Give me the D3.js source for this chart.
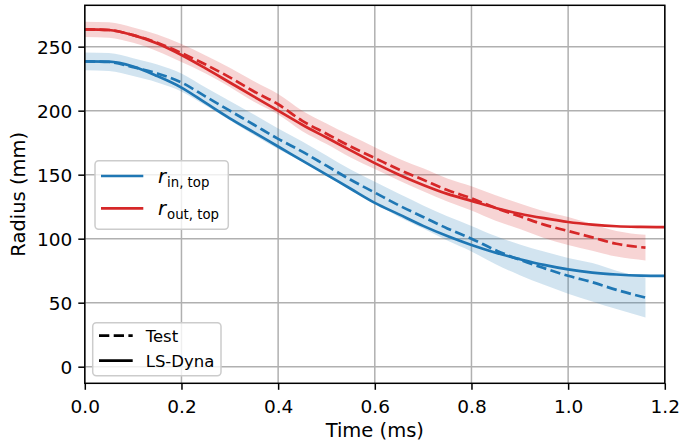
<!DOCTYPE html>
<html><head><meta charset="utf-8">
<script src="https://cdn.jsdelivr.net/npm/d3@7"></script>
<style>body{margin:0;background:#fff}svg{display:block}text{font-family:"DejaVu Sans",sans-serif}</style>
</head><body><svg id="c" width="681" height="446"></svg>
<script>
// LS-Dyna simulation (solid)
const simTime = [0,0.05,0.1,0.15,0.2,0.25,0.3,0.35,0.4,0.45,0.5,0.55,0.6,0.65,0.7,0.75,0.8,0.85,0.9,0.95,1.0,1.05,1.1,1.15,1.2];
const simIn  = [238.5,238.3,234.5,227,218,206,194,183,172,161,150,139,128,119,110,102,95,89,84,79.5,76,73.5,72,71.2,71];
const simOut = [263.5,263,259,252.5,243.5,233,222,211,200,189,179,169,159,150,142,135,129.5,124,119.5,116,113,111,109.7,109.2,109];
// Test (dashed) mean and spread
const testTime = [0,0.05,0.1,0.15,0.2,0.25,0.3,0.35,0.4,0.45,0.5,0.55,0.6,0.65,0.7,0.75,0.8,0.85,0.9,0.95,1.0,1.05,1.1,1.16];
const testIn   = [238.5,238,234,229,222,211,200,189,178,168,157,146,136,126,117,108,100,91,83.5,77,71,66,60,54];
const testOut  = [263.5,263,259,253,245,236,226,215,205,192,182,172,163,154,146,138,131.5,124,117.5,111,106,101,96,93];
const testInStd  = [7,7,7,7,7,7,7.5,8,8,8,8,8,8.5,9,9,9.5,10,11,12,13,14,15,15,15.5];
const testOutStd = [6,6,6,6.5,7,7,7.5,8,8,8,8,8.5,8.5,8.5,9,9,9.5,10,10,10.5,11,10.5,10,10];
const xTicks = [0,0.2,0.4,0.6,0.8,1.0,1.2];
const yTicks = [0,50,100,150,200,250];
const blue = "#1f77b4", red = "#d62728";

const svg = d3.select("#c");
const L=84.8, R=664.8, T=5.3, B=383.3;
const x = d3.scaleLinear().domain([0,1.2]).range([L,R]);
const y = d3.scaleLinear().domain([-12.97,282.3]).range([B,T]);

// grid
const g = svg.append("g");
g.selectAll(".gx").data(xTicks).enter().append("line")
 .attr("x1",d=>x(d)).attr("x2",d=>x(d)).attr("y1",T).attr("y2",B)
 .attr("stroke","#b0b0b0").attr("stroke-width",1.5);
g.selectAll(".gy").data(yTicks).enter().append("line")
 .attr("y1",d=>y(d)).attr("y2",d=>y(d)).attr("x1",L).attr("x2",R)
 .attr("stroke","#b0b0b0").attr("stroke-width",1.5);

const clip = svg.append("clipPath").attr("id","pc").append("rect")
 .attr("x",L).attr("y",T).attr("width",R-L).attr("height",B-T);
const p = svg.append("g").attr("clip-path","url(#pc)");

function band(mean, sd, col){
  const data = testTime.map((t,i)=>({t, lo:mean[i]-sd[i], hi:mean[i]+sd[i]}));
  p.append("path").datum(data)
   .attr("d", d3.area().x(d=>x(d.t)).y0(d=>y(d.lo)).y1(d=>y(d.hi)).curve(d3.curveMonotoneX))
   .attr("fill",col).attr("fill-opacity",0.2).attr("stroke","none");
}
band(testIn, testInStd, blue);
band(testOut, testOutStd, red);

function line(ts, vs, col, dash){
  const data = ts.map((t,i)=>[t,vs[i]]);
  const pa = p.append("path").datum(data)
   .attr("d", d3.line().x(d=>x(d[0])).y(d=>y(d[1])).curve(d3.curveMonotoneX))
   .attr("fill","none").attr("stroke",col).attr("stroke-width",2.7);
  if(dash) pa.attr("stroke-dasharray","10.3,4.4");
}
line(simTime, simIn, blue, false);
line(testTime, testIn, blue, true);
line(simTime, simOut, red, false);
line(testTime, testOut, red, true);

// axes
const xa = svg.append("g").attr("transform",`translate(0,${B})`)
 .call(d3.axisBottom(x).tickValues(xTicks).tickFormat(d3.format(".1f")).tickSize(6.5).tickPadding(6));
const ya = svg.append("g").attr("transform",`translate(${L},0)`)
 .call(d3.axisLeft(y).tickValues(yTicks).tickSize(6.5).tickPadding(6));
[xa,ya].forEach(a=>{
  a.select(".domain").remove();
  a.selectAll(".tick line").attr("stroke","#000").attr("stroke-width",1.5);
  a.selectAll(".tick text").attr("fill","#000").style("font-size","18.5px").style("font-family","DejaVu Sans");
});
xa.selectAll(".tick text").attr("dy","0.95em");
ya.selectAll(".tick text").attr("dy","0.35em");

svg.append("rect").attr("x",L).attr("y",T).attr("width",R-L).attr("height",B-T)
 .attr("fill","none").attr("stroke","#000").attr("stroke-width",1.5);

svg.append("text").attr("x",(L+R)/2).attr("y",437).attr("text-anchor","middle")
 .style("font-size","19.5px").text("Time (ms)");
svg.append("text").attr("transform",`translate(25,${(T+B)/2}) rotate(-90)`).attr("text-anchor","middle")
 .style("font-size","19.5px").text("Radius (mm)");

// legend 1
const l1 = svg.append("g");
l1.append("rect").attr("x",95).attr("y",160.7).attr("width",133.3).attr("height",68.6).attr("rx",3.7)
 .attr("fill","#fff").attr("fill-opacity",0.8).attr("stroke","#cccccc").attr("stroke-width",1.5);
const leg1 = [{c:blue,sub:"in, top",y:176},{c:red,sub:"out, top",y:208.3}];
leg1.forEach(d=>{
  l1.append("line").attr("x1",101).attr("x2",143.3).attr("y1",d.y).attr("y2",d.y).attr("stroke",d.c).attr("stroke-width",2.7);
  const t = l1.append("text").attr("x",158).attr("y",d.y+7).style("font-size","19.5px");
  t.append("tspan").style("font-style","italic").text("r");
  t.append("tspan").attr("dy",3.5).attr("dx",1).style("font-size","13.3px").text(d.sub);
});

// legend 2
const l2 = svg.append("g");
l2.append("rect").attr("x",92.7).attr("y",322.7).attr("width",128.3).attr("height",53).attr("rx",3.7)
 .attr("fill","#fff").attr("fill-opacity",0.8).attr("stroke","#cccccc").attr("stroke-width",1.5);
const leg2 = [{lab:"Test",dash:true,y:335.7},{lab:"LS-Dyna",dash:false,y:360.7}];
leg2.forEach(d=>{
  const ln = l2.append("line").attr("x1",99).attr("x2",132.7).attr("y1",d.y).attr("y2",d.y).attr("stroke","#000").attr("stroke-width",2.7);
  if(d.dash) ln.attr("stroke-dasharray","10.3,4.4");
  l2.append("text").attr("x",145.7).attr("y",d.y+6).style("font-size","16.5px").text(d.lab);
});
</script></body></html>
